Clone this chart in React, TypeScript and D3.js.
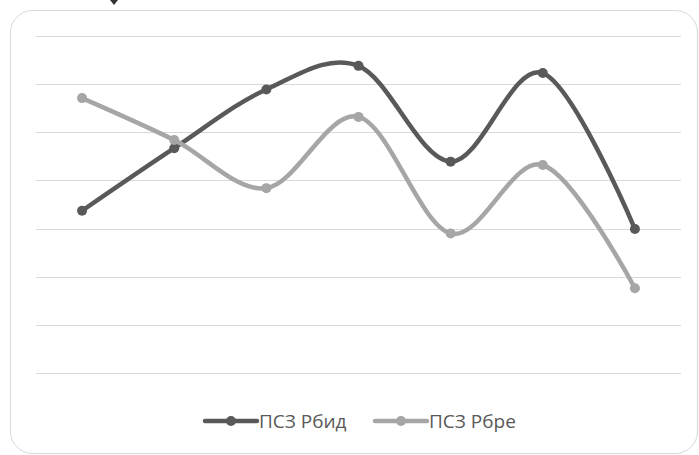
import React from "react";
import * as d3 from "d3";

const categories = ["1", "2", "3", "4", "5", "6", "7"];
const seriesNames = ["ПСЗ Рбид", "ПСЗ Рбре"];
const rbid = [3.37, 4.67, 5.89, 6.38, 4.39, 6.23, 2.99];
const rbre = [5.71, 4.84, 3.84, 5.32, 2.9, 4.32, 1.76];
const gridTicks = [0, 1, 2, 3, 4, 5, 6, 7];

const W = 699;
const H = 455;
const plot = { left: 36, right: 681, top: 36, bottom: 373 };
const colors = ["#595959", "#a6a6a6"];

export default function App() {
  const x = d3
    .scaleBand<string>()
    .domain(categories)
    .range([plot.left, plot.right]);
  const y = d3.scaleLinear().domain([0, 7]).range([plot.bottom, plot.top]);
  const cx = (c: string) => (x(c) ?? 0) + x.bandwidth() / 2;

  const line = d3
    .line<number>()
    .x((_, i) => cx(categories[i]))
    .y((d) => y(d))
    .curve(d3.curveCardinal.tension(0));

  const series = [rbid, rbre];

  const legendItems = [
    { x0: 205, tx: 259 },
    { x0: 375, tx: 429 },
  ];
  const legendY = 421;

  return (
    <svg
      width={W}
      height={H}
      style={{ position: "absolute", left: 0, top: 0, background: "#fff" }}
    >
      <rect
        x={10.5}
        y={10.5}
        width={687}
        height={443}
        rx={22}
        ry={22}
        fill="#fff"
        stroke="#d9d9d9"
        strokeWidth={1}
      />
      <path d="M110,0 L118,0 L114,5 Z" fill="#333" />
      {gridTicks.map((t) => (
        <line
          key={t}
          x1={plot.left}
          x2={plot.right}
          y1={Math.round(y(t)) + 0.5}
          y2={Math.round(y(t)) + 0.5}
          stroke="#d9d9d9"
          strokeWidth={1}
        />
      ))}
      {series.map((s, si) => (
        <g key={si}>
          <path
            d={line(s) ?? ""}
            fill="none"
            stroke={colors[si]}
            strokeWidth={4.5}
            strokeLinecap="round"
            strokeLinejoin="round"
          />
          {s.map((v, i) => (
            <circle
              key={i}
              cx={cx(categories[i])}
              cy={y(v)}
              r={5}
              fill={colors[si]}
            />
          ))}
        </g>
      ))}
      {legendItems.map((it, i) => (
        <g key={i}>
          <line
            x1={it.x0}
            x2={it.x0 + 52}
            y1={legendY}
            y2={legendY}
            stroke={colors[i]}
            strokeWidth={4.5}
            strokeLinecap="round"
          />
          <circle cx={it.x0 + 26} cy={legendY} r={5} fill={colors[i]} />
          <text
            x={it.tx}
            y={legendY}
            dy="0.36em"
            fontFamily="'Open Sans', 'Noto Sans', sans-serif"
            fontSize={19}
            fill="#595959"
          >
            {seriesNames[i]}
          </text>
        </g>
      ))}
    </svg>
  );
}
